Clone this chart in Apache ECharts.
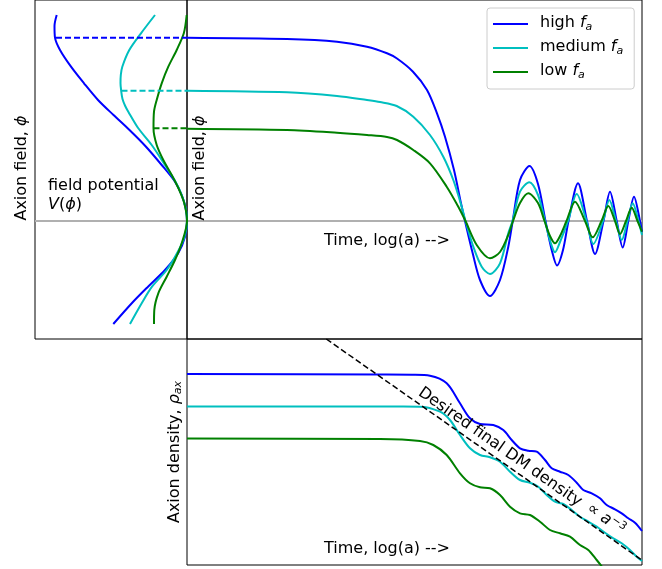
<!DOCTYPE html>
<html><head><meta charset="utf-8">
<script src="https://cdn.jsdelivr.net/npm/echarts@6/dist/echarts.min.js"></script>
<style>html,body{margin:0;padding:0;background:#fff}#c{width:662px;height:569px}</style>
</head><body><div id="c"></div>
<script>
// ---------- data ----------
const levels = ['high', 'medium', 'low'];

// Left panel: potential V(phi), pairs [V, phi]
const potHigh = [[130.3,206],[132.5,195],[132,183.3],[127,171],[116,154.3],[103,137.7],[89,121],[73.5,106],[57.5,91],[41,74.3],[25.3,56],[12,39.3],[5.3,26],[1.3,12.7],[0,0],[2,-15.7],[8.7,-32],[22,-49],[39,-65.7],[55,-82],[73.7,-103]];
const potMedium = [[32,206],[46,187.7],[57.7,171],[64.7,154.3],[66.2,146],[66.5,137.7],[65.8,130],[64.5,122],[61.8,115],[58.7,109.3],[48.7,92.7],[35.3,76],[22,56],[11.5,39.3],[5.3,26],[1.3,12.7],[0,0],[2.5,-15.7],[10,-32.3],[20.3,-49],[35,-65.7],[45.3,-82.3],[57,-103]];
const potLow = [[0.3,206],[3.2,187.7],[10.3,171],[18.7,154.3],[25.3,137.7],[30.3,121],[33,109.3],[33.5,92.7],[30.3,76],[23.7,61],[15.3,46],[8.7,33],[2.7,17.7],[0,0],[5.3,-22.3],[12,-39],[20.3,-55.7],[28.7,-72.3],[32.7,-89],[33,-103]];
// initial field values (dashed markers), [V at curve, phi_i]
const initHigh = [[131,183.3],[0,183.3]];
const initMedium = [[65.5,130.3],[0,130.3]];
const initLow = [[33.5,92.7],[0,92.7]];
const zeroLeft = [[0,0],[152,0]];

// Top panel: field phi vs time, pairs [t, phi]
const fieldHigh = [[0,183.3],[100,182],[150,179.3],[180,174.3],[200,167.7],[210,162.5],[226,149.3],[240,131],[250,107.7],[258,84.3],[267,51],[274,17.7],[278,0],[285.7,-32.3],[293,-59],[303,-75],[313,-59],[321.3,-25.7],[325.7,0],[333,41],[342.5,55],[351,37],[358.5,0],[364.7,-29],[370,-44.5],[376,-29],[381.5,0],[391,37.7],[400,0],[408,-33],[416.5,0],[423,29.3],[429.7,0],[435.7,-26.5],[441.3,0],[447,24.3],[453,0],[455,-11]];
const fieldMedium = [[0,130.3],[100,128.7],[150,125],[180,121],[193,119],[209.7,115],[226.3,104.3],[243,86],[256.3,64.3],[266.3,41],[274.7,14.3],[278.5,0],[286.3,-25.7],[294.7,-45.7],[303,-53],[313,-42.3],[321.3,-12.3],[325.5,0],[333,29.3],[342.3,38.7],[351,26],[358,0],[363.5,-21],[368,-31.3],[373,-21],[381,0],[389.7,27],[399.5,0],[406.3,-23],[416,0],[422.3,21],[429,0],[434.7,-19],[440.5,0],[445.7,17.7],[451.5,0],[455,-14]];
const fieldLow = [[0,92.3],[100,91],[150,88.3],[180,86],[200,84],[210,81],[226.3,71],[243,57.7],[259.7,34.3],[271.3,14.3],[278.5,0],[289.7,-24],[303,-37.3],[313,-31],[321.3,-14],[326,0],[333,18],[341.3,27.7],[351,18],[357.5,0],[363,-15],[368,-22.3],[373,-15],[379.5,0],[388,19.3],[398,0],[405.7,-16.3],[414.5,0],[421.3,15],[428,0],[433,-13],[439,0],[444.7,13.3],[450.5,0],[455,-10.7]];
const zeroTop = [[0,0],[455,0]];

// Bottom panel: log density vs time, pairs [t, rho]
const densHigh = [[0,191],[193,190.5],[225,190.3],[243,189.3],[259.7,181.7],[273,161.7],[283,146.7],[293,141],[306.3,140],[316.3,135],[324.7,125],[333,116.7],[341.3,114.3],[349.7,113.3],[358,105],[364.7,96.7],[373,93.3],[381.3,90],[389.7,82.3],[396.3,75],[404.7,71.7],[413,66.7],[419.7,60],[428,55.7],[434.7,51.7],[441.3,46.7],[448,42.3],[455,34]];
const densMedium = [[0,158.5],[200,158.4],[233,158.3],[253,153.3],[263,145],[273,130],[283,116.7],[293,110],[303,107.7],[313,103.3],[323,93.3],[333,85],[343,82.3],[351.3,78.3],[359.7,70],[368,63.3],[376.3,61],[384.7,55],[393,48.3],[401.3,43.3],[409.7,38.3],[418,32.3],[426.3,26.7],[434.7,21.7],[443,15],[449.7,8.3],[455,4]];
const densLow = [[0,126.5],[193,126],[233,124],[246.3,120],[259.7,110],[273,91.7],[283,81.7],[293,77.7],[303,76.7],[313,70],[323,58.3],[333,51.7],[343,50],[353,43.3],[363,35],[373,31.7],[383,28.3],[393,20],[401.3,15],[409.7,5],[416,-3]];
const desired = [[139.3,226],[455,4.8]];

// ---------- styles ----------
const FONT = 'DejaVu Sans';
const FS = 16;
const COL = {high:'#0000ff', medium:'#00bfbf', low:'#008000'};
const DASH = [6, 3];

function ls(name, data, xi, color, extra) {
  return Object.assign({
    type:'line', name: name, data: data, xAxisIndex: xi, yAxisIndex: xi,
    symbol:'none', smooth: 0.3, animation:false, silent:true,
    lineStyle:{color: color, width: 2}, itemStyle:{color: color}, z: 3
  }, extra || {});
}

const series = [
  ls('high', fieldHigh, 1, COL.high),
  ls('medium', fieldMedium, 1, COL.medium),
  ls('low', fieldLow, 1, COL.low),
  ls('zero', zeroTop, 1, '#b0b0b0', {smooth:false, z:1}),
  ls('zero', zeroLeft, 0, '#b0b0b0', {smooth:false, z:1}),
  ls('high', potHigh, 0, COL.high),
  ls('medium', potMedium, 0, COL.medium),
  ls('low', potLow, 0, COL.low),
  ls('high', initHigh, 0, COL.high, {smooth:false, lineStyle:{color:COL.high, width:2, type:DASH}}),
  ls('medium', initMedium, 0, COL.medium, {smooth:false, lineStyle:{color:COL.medium, width:2, type:DASH}}),
  ls('low', initLow, 0, COL.low, {smooth:false, lineStyle:{color:COL.low, width:2, type:DASH}}),
  ls('high', densHigh, 2, COL.high),
  ls('medium', densMedium, 2, COL.medium),
  ls('low', densLow, 2, COL.low),
  ls('desired', desired, 2, '#000', {smooth:false, lineStyle:{color:'#000', width:1.5, type:DASH}})
];

const gridStyle = {show:true, borderColor:'#000', borderWidth:1, backgroundColor:'rgba(0,0,0,0)'};
const chart = echarts.init(document.getElementById('c'), null, {renderer:'canvas'});
chart.setOption({
  animation:false,
  grid:[
    Object.assign({left:35, top:0, width:152, height:339}, gridStyle),
    Object.assign({left:187, top:0, width:455, height:339}, gridStyle),
    Object.assign({left:187, top:339, width:455, height:226}, gridStyle)
  ],
  xAxis:[
    {gridIndex:0, type:'value', min:0, max:152, inverse:true, show:false},
    {gridIndex:1, type:'value', min:0, max:455, show:false},
    {gridIndex:2, type:'value', min:0, max:455, show:false}
  ],
  yAxis:[
    {gridIndex:0, type:'value', min:-118, max:221, show:false},
    {gridIndex:1, type:'value', min:-118, max:221, show:false},
    {gridIndex:2, type:'value', min:0, max:226, show:false}
  ],
  legend:{
    data: levels, orient:'vertical', left:487, top:8,
    padding:[7,11,8,6], itemGap:6, itemWidth:35, itemHeight:2,
    icon:'rect',
    backgroundColor:'#fff', borderColor:'#cccccc', borderWidth:1, borderRadius:3,
    selectedMode:false,
    formatter: function(n){ return '{p|}{n|' + n + ' }{i|f}{s|a}'; },
    textStyle:{fontFamily:FONT, fontSize:FS, color:'#000',
      rich:{
        p:{width:7},
        n:{fontFamily:FONT, fontSize:FS, lineHeight:18, verticalAlign:'top'},
        i:{fontFamily:FONT, fontSize:FS, fontStyle:'italic', lineHeight:18, verticalAlign:'top'},
        s:{fontFamily:FONT, fontSize:11, fontStyle:'italic', lineHeight:11, verticalAlign:'bottom'}
      }}
  },
  series: series
});

// ---------- text annotations ----------
const rich = {
  n:{fontFamily:FONT, fontSize:FS, fill:'#000'},
  i:{fontFamily:FONT, fontSize:FS, fontStyle:'italic', fill:'#000'},
  s:{fontFamily:FONT, fontSize:11, fontStyle:'italic', fill:'#000', verticalAlign:'bottom', padding:[6,0,0,0]},
  sup:{fontFamily:FONT, fontSize:11, fill:'#000', verticalAlign:'top', padding:[0,0,8,0]}
};
function txt(text, x, y, rot, align) {
  return {type:'text', x:x, y:y, rotation:rot||0, z:100, silent:true,
    style:{text:text, fontFamily:FONT, fontSize:FS, fill:'#000', align:align||'center', verticalAlign:'middle', rich:rich}};
}
const p1 = chart.convertToPixel({xAxisIndex:2, yAxisIndex:2}, desired[0]);
const p2 = chart.convertToPixel({xAxisIndex:2, yAxisIndex:2}, desired[1]);
const ang = Math.atan2(p2[1]-p1[1], p2[0]-p1[0]);
const nx = Math.sin(ang), ny = -Math.cos(ang);
function along(f, d){ return [p1[0] + f*(p2[0]-p1[0]) + d*nx, p1[1] + f*(p2[1]-p1[1]) + d*ny]; }
const c1 = along(0.53, 11), c2 = along(0.862, 13);
const tl = chart.convertToPixel({xAxisIndex:1, yAxisIndex:1}, [200, -20]);
const bl = chart.convertToPixel({xAxisIndex:2, yAxisIndex:2}, [200, 16]);

chart.setOption({graphic:[
  txt('{n|Axion field, }{i|ϕ}', 22, 168, Math.PI/2),
  txt('{n|Axion field, }{i|ϕ}', 200, 168, Math.PI/2),
  txt('{n|Axion density, }{i|ρ}{s|ax}', 175, 452, Math.PI/2),
  {type:'text', x:48, y:176, z:100, silent:true,
   style:{text:'{n|field potential}\n{i|V}{n|(}{i|ϕ}{n|)}', fontFamily:FONT, fontSize:FS, lineHeight:19, fill:'#000', rich:rich}},
  txt('{n|Time, log(a) -->}', tl[0], tl[1]),
  txt('{n|Time, log(a) -->}', bl[0], bl[1]),
  txt('{n|Desired final DM density}', c1[0], c1[1], -ang),
  txt('{n|∝ }{i|a}{sup|−3}', c2[0], c2[1], -ang)
]});
</script>
</body></html>
